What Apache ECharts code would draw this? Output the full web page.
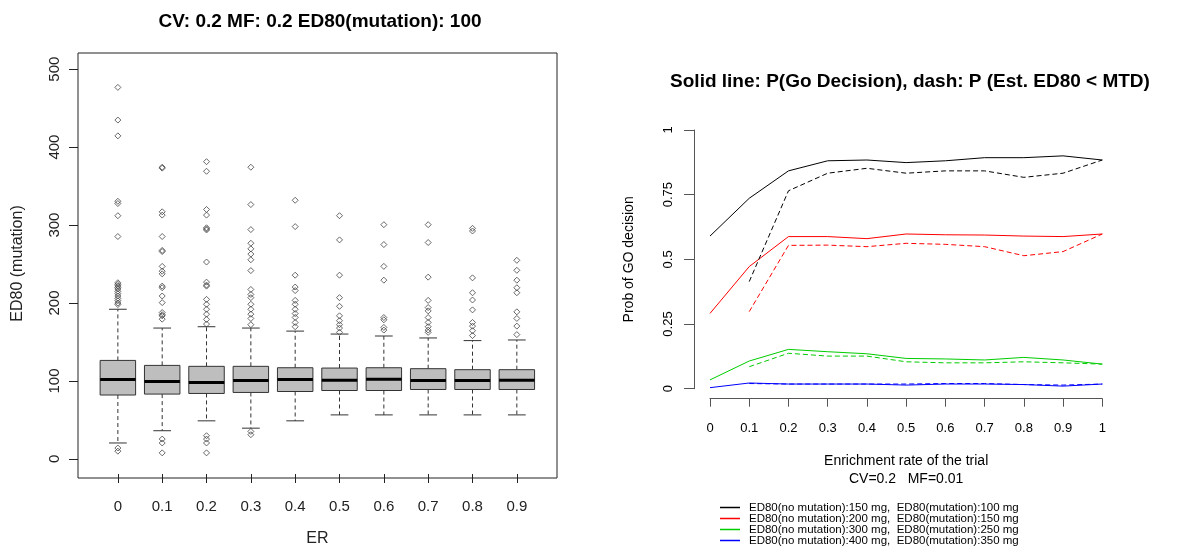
<!DOCTYPE html>
<html>
<head>
<meta charset="utf-8">
<script src="https://cdn.jsdelivr.net/npm/echarts@6/dist/echarts.min.js"></script>
<style>
html,body{margin:0;padding:0;background:#fff;}
#chart{width:1178px;height:552px;}
</style>
</head>
<body>
<div id="chart"></div>
<script>
// ---------------- Left panel: boxplot data ----------------
const erCategories = ['0','0.1','0.2','0.3','0.4','0.5','0.6','0.7','0.8','0.9'];
// [lower whisker, Q1, median, Q3, upper whisker]
const boxStats = [
  [20.5, 82.0, 101.8, 126.4, 192.0],
  [36.2, 83.2,  99.2, 120.0, 167.9],
  [48.9, 84.0,  98.0, 118.8, 169.6],
  [39.5, 85.3, 100.5, 118.8, 167.9],
  [48.9, 86.5, 101.8, 117.0, 164.0],
  [56.5, 87.8, 101.0, 116.6, 160.2],
  [56.5, 87.8, 102.3, 117.0, 157.7],
  [56.5, 89.1, 100.5, 115.8, 155.2],
  [56.5, 89.1, 100.5, 114.5, 151.8],
  [56.5, 89.1, 101.0, 114.5, 152.6]
];
const outliersER00 = [476.6, 434.7, 414.4, 330.5, 327.6, 312, 285.3, 226, 224, 222, 220, 218, 215, 212, 209, 206, 203, 200, 198, 14, 10];
const outliersER01 = [374.2, 373, 317, 312.8, 285.3, 267.5, 266, 247, 240.8, 237.4, 221.7, 219.6, 209, 200.5, 187.8, 185, 183.6, 179.3, 25.5, 20.5, 7.8];
const outliersER02 = [381.3, 369, 320, 312.8, 296.5, 295, 293.7, 252.6, 226.8, 223, 221.7, 204.7, 198.4, 192, 185.7, 179, 173, 29.8, 25.5, 20.5, 7.8];
const outliersER03 = [374.2, 326.3, 294.2, 276.7, 269.5, 262.8, 255.5, 241.6, 217.4, 211, 206.9, 198.4, 192, 185.7, 180.2, 172.2, 35.3, 31.1];
const outliersER04 = [331.8, 298, 235.7, 220.5, 216, 203.4, 198.4, 192, 186.5, 181.5, 175, 169.6];
const outliersER05 = [312, 281, 235.7, 206.9, 195.8, 183.6, 177.3, 172.2, 167.9, 162.4];
const outliersER06 = [300.5, 275, 247, 229.3, 181.4, 178.5, 168.7, 165.3];
const outliersER07 = [300.5, 277.6, 233.2, 203.4, 194.2, 189.9, 181.4, 175.1, 169.6, 165.3, 162.4];
const outliersER08 = [295.8, 292.4, 232.3, 213.2, 203.9, 191.2, 175.1, 170.4, 164.5, 158.2];
const outliersER09 = [254.8, 242, 229.3, 219.6, 213.2, 188.7, 180.2, 170.4, 159.5];
const leftYTicks = [0, 100, 200, 300, 400, 500];

// ---------------- Right panel: line data ----------------
const enrichRates = [0, 0.1, 0.2, 0.3, 0.4, 0.5, 0.6, 0.7, 0.8, 0.9, 1];
const goBlack  = [0.590, 0.736, 0.842, 0.881, 0.884, 0.874, 0.881, 0.893, 0.893, 0.900, 0.884];
const estBlack = [null,  0.414, 0.765, 0.833, 0.852, 0.833, 0.842, 0.842, 0.817, 0.833, 0.884];
const goRed    = [0.291, 0.472, 0.588, 0.588, 0.580, 0.598, 0.595, 0.594, 0.590, 0.588, 0.598];
const estRed   = [null,  0.298, 0.554, 0.555, 0.549, 0.562, 0.558, 0.549, 0.514, 0.530, 0.598];
const goGreen  = [0.034, 0.107, 0.152, 0.143, 0.135, 0.117, 0.115, 0.111, 0.121, 0.111, 0.095];
const estGreen = [null,  0.085, 0.137, 0.126, 0.126, 0.104, 0.100, 0.100, 0.104, 0.100, 0.095];
const goBlue   = [0.004, 0.022, 0.018, 0.018, 0.018, 0.014, 0.018, 0.018, 0.016, 0.010, 0.018];
const estBlue  = [null,  0.020, 0.018, 0.018, 0.018, 0.018, 0.020, 0.020, 0.016, 0.014, 0.018];
const scenarioNames = [
  'ED80(no mutation):150 mg,  ED80(mutation):100 mg',
  'ED80(no mutation):200 mg,  ED80(mutation):150 mg',
  'ED80(no mutation):300 mg,  ED80(mutation):250 mg',
  'ED80(no mutation):400 mg,  ED80(mutation):350 mg'
];
const scenarioColors = ['#000000', '#ff0000', '#00cd00', '#0000ff'];

// ---------------- build ----------------
const outlierLists = [outliersER00, outliersER01, outliersER02, outliersER03, outliersER04,
                      outliersER05, outliersER06, outliersER07, outliersER08, outliersER09];
const outlierPoints = [];
outlierLists.forEach((list, i) => list.forEach(v => outlierPoints.push([i, v])));
const boxData = boxStats.map((s, i) => [i].concat(s));
const pairs = arr => enrichRates.map((x, i) => [x, arr[i]]).filter(p => p[1] !== null);
const goSets = [goBlack, goRed, goGreen, goBlue];
const estSets = [estBlack, estRed, estGreen, estBlue];

const leftFont = "'Liberation Sans', Arial, sans-serif";
const rightFont = "'Liberation Sans', Arial, sans-serif";

const lineSeries = [];
goSets.forEach((arr, k) => lineSeries.push({
  type: 'line', name: scenarioNames[k], xAxisIndex: 2, yAxisIndex: 2,
  data: pairs(arr), showSymbol: false, symbol: 'none', silent: true,
  color: scenarioColors[k],
  lineStyle: { color: scenarioColors[k], width: 1 }, itemStyle: { color: scenarioColors[k] }, z: 3
}));
estSets.forEach((arr, k) => lineSeries.push({
  type: 'line', name: scenarioNames[k] + ' ', xAxisIndex: 2, yAxisIndex: 2,
  data: pairs(arr), showSymbol: false, symbol: 'none', silent: true,
  color: scenarioColors[k],
  lineStyle: { color: scenarioColors[k], width: 1, type: [5, 3] }, itemStyle: { color: scenarioColors[k] }, z: 3
}));

const chart = echarts.init(document.getElementById('chart'), null, { renderer: 'canvas' });
chart.setOption({
  animation: false,
  backgroundColor: '#ffffff',
  title: [
    { text: 'CV: 0.2 MF: 0.2 ED80(mutation): 100', left: 315, top: 7, textAlign: 'center',
      textStyle: { fontFamily: rightFont, fontWeight: 'bold', fontSize: 19, color: '#000' } },
    { text: 'Solid line: P(Go Decision), dash: P (Est. ED80 < MTD)', left: 905, top: 67, textAlign: 'center',
      textStyle: { fontFamily: rightFont, fontWeight: 'bold', fontSize: 19, color: '#000' } }
  ],
  grid: [
    // frame of the left plot
    { left: 78, top: 53, width: 479, height: 425, show: true, borderColor: '#222', borderWidth: 1, backgroundColor: 'transparent' },
    // data area of the left plot
    { left: 95.7, top: 53, width: 443.3, height: 425 },
    // right plot
    { left: 710, top: 130, width: 392.3, height: 258.7 }
  ],
  xAxis: [
    { gridIndex: 0, type: 'value', show: false, min: 0, max: 1 },
    { gridIndex: 1, type: 'category', data: erCategories, boundaryGap: true,
      axisLine: { show: false, onZero: false },
      axisTick: { show: true, alignWithLabel: true, length: 9, lineStyle: { color: '#222' } },
      axisLabel: { margin: 25, fontFamily: leftFont, fontSize: 15, color: '#222' },
      name: 'ER', nameLocation: 'middle', nameGap: 57,
      nameTextStyle: { fontFamily: leftFont, fontSize: 16, color: '#222' } },
    { gridIndex: 2, type: 'value', min: 0, max: 1, interval: 0.1, offset: 10,
      axisLine: { show: true, onZero: false, lineStyle: { color: '#555', width: 1 } },
      axisTick: { show: true, length: 8, lineStyle: { color: '#555' } },
      splitLine: { show: false },
      axisLabel: { margin: 23, fontFamily: rightFont, fontSize: 13, color: '#000' },
      name: 'Enrichment rate of the trial\nCV=0.2   MF=0.01', nameLocation: 'middle', nameGap: 54,
      nameTextStyle: { fontFamily: rightFont, fontSize: 14, lineHeight: 17.5, color: '#000' } }
  ],
  yAxis: [
    { gridIndex: 0, type: 'value', show: false, min: 0, max: 1 },
    { gridIndex: 1, type: 'value', min: -19.3, max: 520.7, offset: 17.7,
      axisLine: { show: false, onZero: false },
      axisTick: { show: true, length: 9, customValues: leftYTicks, lineStyle: { color: '#222' } },
      splitLine: { show: false },
      axisLabel: { rotate: 90, margin: 16, fontFamily: leftFont, fontSize: 15, color: '#222',
                   customValues: leftYTicks },
      name: 'ED80 (mutation)', nameLocation: 'middle', nameGap: 52,
      nameTextStyle: { fontFamily: leftFont, fontSize: 16, color: '#222' } },
    { gridIndex: 2, type: 'value', min: 0, max: 1, interval: 0.25, offset: 16,
      axisLine: { show: true, onZero: false, lineStyle: { color: '#555', width: 1 } },
      axisTick: { show: true, length: 10, lineStyle: { color: '#555' } },
      splitLine: { show: false },
      axisLabel: { rotate: 90, margin: 19, fontFamily: rightFont, fontSize: 13, color: '#000' },
      name: 'Prob of GO decision', nameLocation: 'middle', nameGap: 58,
      nameTextStyle: { fontFamily: rightFont, fontSize: 14, color: '#000' } }
  ],
  legend: {
    orient: 'vertical', left: 720, top: 501.5, padding: 0, itemGap: -1,
    itemWidth: 20, itemHeight: 10,
    icon: 'path://M0,0L20,0L20,1.5L0,1.5Z',
    data: scenarioNames.map((n, k) => ({ name: n, itemStyle: { color: scenarioColors[k], borderWidth: 0, opacity: 1 } })),
    selectedMode: false,
    textStyle: { fontFamily: rightFont, fontSize: 11.5, lineHeight: 10, color: '#000', padding: [0, 0, 0, 4] }
  },
  series: [
    {
      type: 'custom', name: 'box', xAxisIndex: 1, yAxisIndex: 1, silent: true,
      data: boxData,
      encode: { x: 0, y: [1, 2, 3, 4, 5] },
      renderItem: function (params, api) {
        const i = api.value(0);
        const lw = api.coord([i, api.value(1)]);
        const q1 = api.coord([i, api.value(2)]);
        const md = api.coord([i, api.value(3)]);
        const q3 = api.coord([i, api.value(4)]);
        const uw = api.coord([i, api.value(5)]);
        const band = api.size([1, 0])[0];
        const bw = band * 0.8, cw = bw * 0.5;
        const cx = q1[0];
        const stroke = '#333';
        return {
          type: 'group',
          children: [
            { type: 'line', shape: { x1: cx, y1: q3[1], x2: cx, y2: uw[1] }, style: { stroke: stroke, lineWidth: 1, lineDash: [4, 3] } },
            { type: 'line', shape: { x1: cx, y1: q1[1], x2: cx, y2: lw[1] }, style: { stroke: stroke, lineWidth: 1, lineDash: [4, 3] } },
            { type: 'line', shape: { x1: cx - cw / 2, y1: uw[1], x2: cx + cw / 2, y2: uw[1] }, style: { stroke: stroke, lineWidth: 1 } },
            { type: 'line', shape: { x1: cx - cw / 2, y1: lw[1], x2: cx + cw / 2, y2: lw[1] }, style: { stroke: stroke, lineWidth: 1 } },
            { type: 'rect', shape: { x: cx - bw / 2, y: q3[1], width: bw, height: q1[1] - q3[1] }, style: { fill: '#bebebe', stroke: stroke, lineWidth: 1 } },
            { type: 'line', shape: { x1: cx - bw / 2, y1: md[1], x2: cx + bw / 2, y2: md[1] }, style: { stroke: '#000', lineWidth: 3 } }
          ]
        };
      }
    },
    {
      type: 'scatter', name: 'outliers', xAxisIndex: 1, yAxisIndex: 1, silent: true,
      data: outlierPoints, symbol: 'diamond', symbolSize: 6,
      itemStyle: { color: 'rgba(255,255,255,0)', borderColor: '#444', borderWidth: 1 }
    }
  ].concat(lineSeries)
});
</script>
</body>
</html>
